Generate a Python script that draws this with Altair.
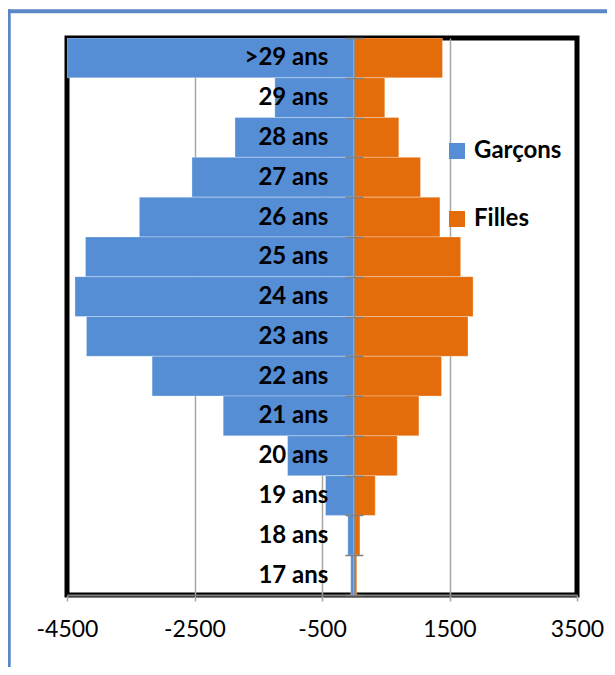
import altair as alt
import pandas as pd

ages = [">29 ans", "29 ans", "28 ans", "27 ans", "26 ans", "25 ans", "24 ans",
        "23 ans", "22 ans", "21 ans", "20 ans", "19 ans", "18 ans", "17 ans"]
garcons = [-4500, -1240, -1865, -2540, -3365, -4210, -4375,
           -4195, -3165, -2050, -1040, -445, -95, -50]
filles = [1390, 485, 705, 1045, 1350, 1675, 1870,
          1790, 1375, 1020, 680, 335, 95, 45]
series = ["Garçons", "Filles"]
colors = ["#558ED5", "#E46C0A"]
x_ticks = [-4500, -2500, -500, 1500, 3500]

rows = []
for a, g, f in zip(ages, garcons, filles):
    rows.append({"age": a, "sexe": series[0], "n": g})
    rows.append({"age": a, "sexe": series[1], "n": f})
df = pd.DataFrame(rows)

W, H = 510, 557
zero_px = W * (0 - x_ticks[0]) / (x_ticks[-1] - x_ticks[0])

xscale = alt.Scale(domain=[x_ticks[0], x_ticks[-1]], nice=False, zero=False)
yscale = alt.Scale(paddingInner=0, paddingOuter=0)

edge_test = "datum.value == %d || datum.value == %d" % (x_ticks[0], x_ticks[-1])
x_axis = alt.Axis(values=x_ticks, title=None, labelExpr="'' + datum.value",
                  grid=True, gridColor="#A6A6A6", gridWidth=1.5,
                  gridOpacity={"condition": {"test": edge_test, "value": 0}, "value": 1},
                  tickColor="#A6A6A6", tickSize=6, tickWidth=1.5,
                  domainColor="#808080", domainWidth=2, labelFlush=False,
                  labelFontSize=23, labelColor="black", labelPadding=17,
                  labelFont="Lato", zindex=0)
x_enc = alt.X("n:Q", scale=xscale, stack=None, axis=x_axis)

bars = alt.Chart(df).mark_bar(
    clip=True, stroke="white", strokeWidth=1, strokeOpacity=0.3
).encode(
    x=x_enc,
    y=alt.Y("age:N", sort=ages, scale=yscale,
            axis=alt.Axis(orient="left", offset=-zero_px, title=None,
                          labelFontSize=24, labelFontWeight="bold", labelColor="black",
                          labelFont="Lato", labelPadding=17, labelAlign="right",
                          tickBand="extent", tickSize=9, tickColor="#808080", tickWidth=1.5,
                          domainColor="#8C8C8C", domainWidth=1.5, zindex=1, grid=False)),
    color=alt.Color("sexe:N", scale=alt.Scale(domain=series, range=colors),
                    legend=alt.Legend(orient="none", legendX=378, legendY=101, title=None,
                                      symbolType="square", symbolSize=256,
                                      symbolStrokeWidth=0, labelFontSize=24,
                                      labelFontWeight="bold", labelColor="black",
                                      labelFont="Lato", rowPadding=44, labelOffset=5,
                                      padding=0)),
)

ticks_r = alt.Chart(df).mark_bar(opacity=0).encode(
    x=x_enc,
    y=alt.Y("age:N", sort=ages, scale=yscale,
            axis=alt.Axis(orient="right", offset=zero_px - W, title=None, labels=False,
                          domain=False, grid=False, tickBand="extent", tickSize=9,
                          tickColor="#808080", tickWidth=1.5, zindex=1)),
)

frame_df = pd.DataFrame({"k": [0]})
frame_left = alt.Chart(frame_df).mark_rule(color="#5B87C5", strokeWidth=3).encode(
    x=alt.value(-57.8), y=alt.value(-28.7), y2=alt.value(700))
frame_top = alt.Chart(frame_df).mark_rule(color="#5B87C5", strokeWidth=4).encode(
    y=alt.value(-26.7), x=alt.value(-59.3), x2=alt.value(700))

chart = alt.layer(bars, ticks_r, frame_left, frame_top).resolve_scale(
    y="independent"
).properties(
    width=W, height=H,
    autosize=alt.AutoSizeParams(type="none"),
    padding={"left": 59, "top": 30, "right": 30, "bottom": 72},
).configure(font="Lato").configure_view(stroke="black", strokeWidth=5)

chart.save("out.html", embed_options={"renderer": "svg", "actions": False})
